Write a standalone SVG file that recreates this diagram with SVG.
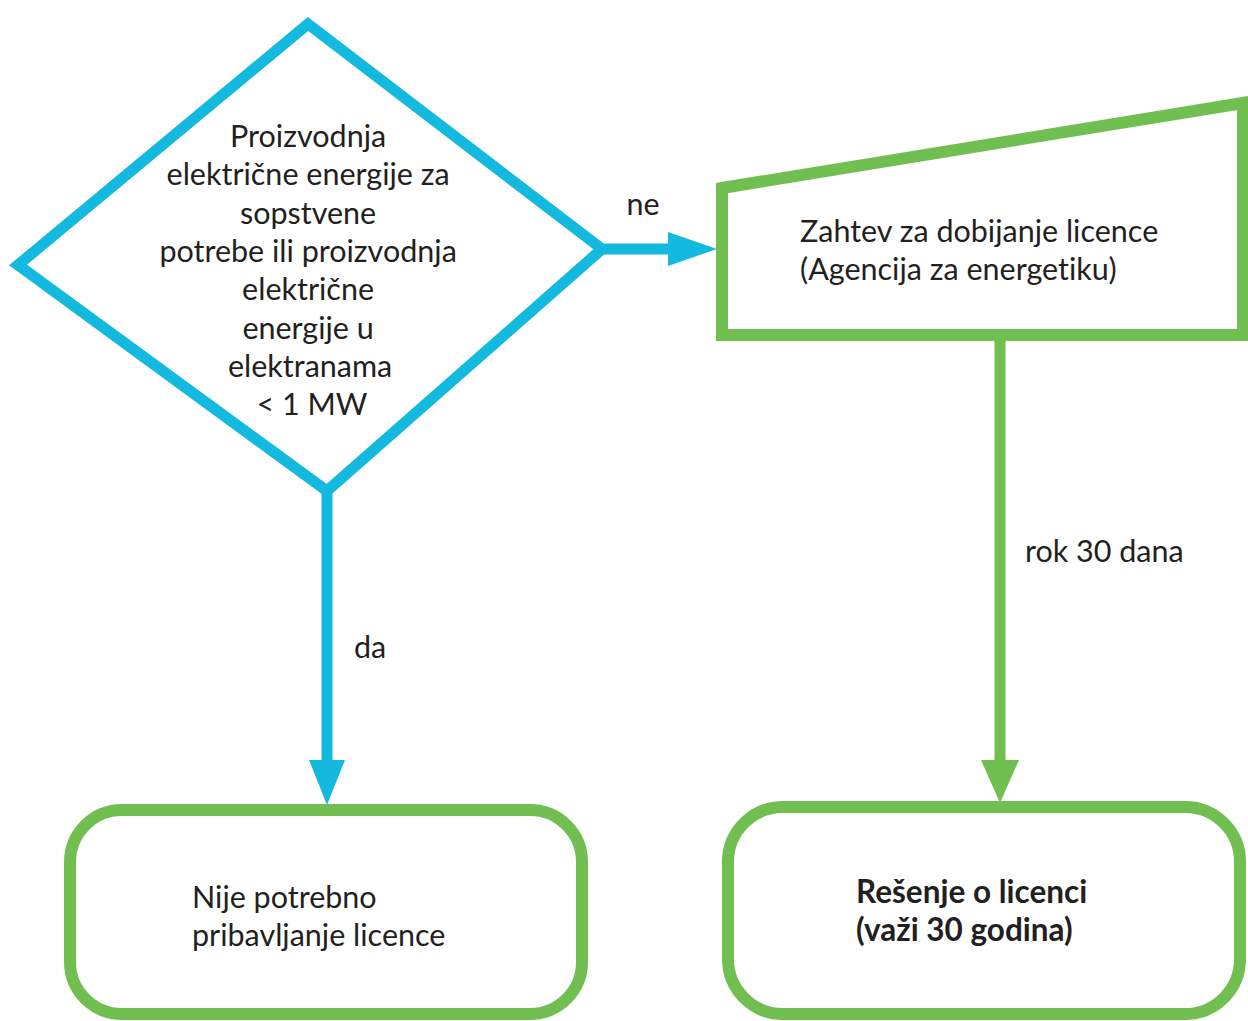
<svg xmlns="http://www.w3.org/2000/svg" width="1248" height="1021" viewBox="0 0 1248 1021">
<style>
.t{font-family:Lato,"Open Sans","Liberation Sans",sans-serif;font-size:30.5px;fill:#231F20;font-variant-ligatures:none}
.b{font-weight:bold;font-size:31.5px}
.cy{fill:none;stroke:#13B9DE;stroke-width:11}
.gr{fill:none;stroke:#72BF51;stroke-width:12}
</style>
<rect width="1248" height="1021" fill="#fff"/>
<g id="connectors">
<line x1="604" y1="249" x2="672" y2="249" stroke="#13B9DE" stroke-width="11"/>
<polygon points="668,232 717,249 668,266" fill="#13B9DE"/>
<text class="t" x="643" y="215" text-anchor="middle">ne</text>
<line x1="327" y1="492" x2="327" y2="765" stroke="#13B9DE" stroke-width="11"/>
<polygon points="309,760 345,760 327,805" fill="#13B9DE"/>
<text class="t" x="354" y="658">da</text>
<line x1="1000" y1="340" x2="1000" y2="765" stroke="#72BF51" stroke-width="11"/>
<polygon points="981,760 1019,760 1000,803" fill="#72BF51"/>
<text class="t" x="1025" y="562">rok 30 dana</text>
</g>
<g id="decision">
<polygon class="cy" points="308,24 18,265 327,491 602,249"/>
<text class="t" text-anchor="middle">
<tspan x="312" y="147">Proizvodnja</tspan>
<tspan x="312" y="185">električne energije za</tspan>
<tspan x="312" y="224">sopstvene</tspan>
<tspan x="312" y="262">potrebe ili proizvodnja</tspan>
<tspan x="312" y="300">električne</tspan>
<tspan x="312" y="339">energije u</tspan>
<tspan x="314" y="377">elektranama</tspan>
<tspan x="312" y="415">&lt; 1 MW</tspan>
</text>
</g>
<g id="request">
<polygon class="gr" points="722,188 1243,103 1243,335 722,335"/>
<text class="t"><tspan x="800" y="242">Zahtev za dobijanje licence</tspan><tspan x="800" y="280">(Agencija za energetiku)</tspan></text>
</g>
<g id="no-license">
<rect class="gr" x="70" y="810" width="512" height="204" rx="52" ry="52"/>
<text class="t"><tspan x="192" y="908">Nije potrebno</tspan><tspan x="192" y="946">pribavljanje licence</tspan></text>
</g>
<g id="license">
<rect class="gr" x="728" y="807" width="512" height="207" rx="55" ry="55"/>
<text class="t b"><tspan x="856" y="903">Rešenje o licenci</tspan><tspan x="856" y="941">(važi 30 godina)</tspan></text>
</g>
</svg>
